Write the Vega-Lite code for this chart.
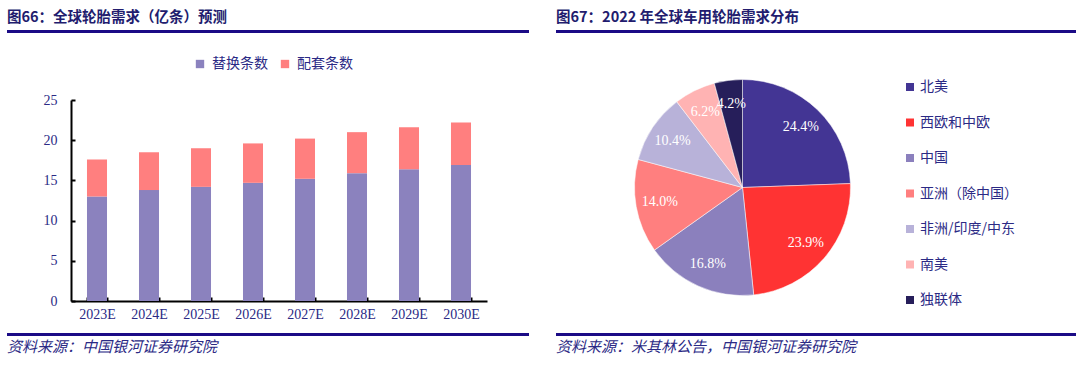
{
  "$schema": "https://vega.github.io/schema/vega-lite/v6.json",
  "background": "white",
  "padding": {"left": 7, "top": 10, "right": 0, "bottom": 0},
  "config": {
    "view": {"stroke": null},
    "font": "Liberation Serif"
  },
  "datasets": {
    "blank": [{"a": 1}],
    "bars": [
      {"year": "2023E", "type": "替换条数", "k": 1, "value": 13.0},
      {"year": "2024E", "type": "替换条数", "k": 1, "value": 13.8},
      {"year": "2025E", "type": "替换条数", "k": 1, "value": 14.2},
      {"year": "2026E", "type": "替换条数", "k": 1, "value": 14.7},
      {"year": "2027E", "type": "替换条数", "k": 1, "value": 15.2},
      {"year": "2028E", "type": "替换条数", "k": 1, "value": 15.9},
      {"year": "2029E", "type": "替换条数", "k": 1, "value": 16.4},
      {"year": "2030E", "type": "替换条数", "k": 1, "value": 16.9},
      {"year": "2023E", "type": "配套条数", "k": 2, "value": 4.6},
      {"year": "2024E", "type": "配套条数", "k": 2, "value": 4.7},
      {"year": "2025E", "type": "配套条数", "k": 2, "value": 4.8},
      {"year": "2026E", "type": "配套条数", "k": 2, "value": 4.9},
      {"year": "2027E", "type": "配套条数", "k": 2, "value": 5.0},
      {"year": "2028E", "type": "配套条数", "k": 2, "value": 5.1},
      {"year": "2029E", "type": "配套条数", "k": 2, "value": 5.2},
      {"year": "2030E", "type": "配套条数", "k": 2, "value": 5.3}
    ],
    "pie": [
      {"idx": 1, "region": "北美", "share": 0.244},
      {"idx": 2, "region": "西欧和中欧", "share": 0.239},
      {"idx": 3, "region": "中国", "share": 0.168},
      {"idx": 4, "region": "亚洲（除中国）", "share": 0.140},
      {"idx": 5, "region": "非洲/印度/中东", "share": 0.104},
      {"idx": 6, "region": "南美", "share": 0.062},
      {"idx": 7, "region": "独联体", "share": 0.042}
    ]
  },
  "resolve": {"scale": {"color": "independent"}, "legend": {"color": "independent"}},
  "spacing": 7,
  "vconcat": [
    {
      "spacing": 20,
      "resolve": {"scale": {"color": "independent"}, "legend": {"color": "independent"}},
      "vconcat": [
        {
          "spacing": 27,
          "hconcat": [
            {
              "data": {"name": "blank"},
              "mark": {"type": "text", "opacity": 0},
              "encoding": {},
              "width": 522,
              "height": 3,
              "view": {"fill": "#1B0B86", "stroke": null},
              "title": {"text": "图66：全球轮胎需求（亿条）预测", "anchor": "start", "orient": "top", "offset": 0, "fontSize": 14.5, "fontWeight": "bold", "color": "#221C6E", "font": "Noto Sans CJK SC"}
            },
            {
              "data": {"name": "blank"},
              "mark": {"type": "text", "opacity": 0},
              "encoding": {},
              "width": 520,
              "height": 3,
              "view": {"fill": "#1B0B86", "stroke": null},
              "title": {"text": "图67：2022 年全球车用轮胎需求分布", "anchor": "start", "orient": "top", "offset": 0, "fontSize": 14.5, "fontWeight": "bold", "color": "#221C6E", "font": "Noto Sans CJK SC"}
            }
          ]
        },
        {
          "spacing": 68,
          "resolve": {"scale": {"color": "independent"}, "legend": {"color": "independent"}},
          "hconcat": [
            {
              "spacing": 0,
              "resolve": {"scale": {"color": "independent"}, "legend": {"color": "independent"}},
              "hconcat": [
                {
                  "data": {"name": "blank"},
                  "mark": {"type": "text", "opacity": 0},
                  "encoding": {},
                  "width": 1,
                  "height": 1
                },
                {
                  "data": {"name": "bars"},
                  "width": 416,
                  "height": 201,
                  "mark": {"type": "bar"},
                  "encoding": {
                    "x": {
                      "field": "year", "type": "nominal", "sort": null,
                      "scale": {"paddingInner": 0.615, "paddingOuter": 0.3075},
                      "axis": {"title": null, "labelAngle": 0, "domainColor": "black", "domainWidth": 2, "tickColor": "black", "tickWidth": 2, "tickSize": -4, "tickBand": "extent", "labelFontSize": 14, "labelColor": "#2B2A85", "labelFont": "Liberation Serif", "labelPadding": 10}
                    },
                    "y": {
                      "field": "value", "type": "quantitative", "stack": "zero",
                      "scale": {"domain": [0, 25], "nice": false},
                      "axis": {"title": null, "values": [0, 5, 10, 15, 20, 25], "grid": false, "domainColor": "black", "domainWidth": 2, "tickColor": "black", "tickWidth": 2, "tickSize": -4, "labelPadding": 18, "minExtent": 63, "maxExtent": 63, "labelFontSize": 14, "labelColor": "#2B2A85", "labelFont": "Liberation Serif"}
                    },
                    "order": {"field": "k", "type": "quantitative", "sort": "ascending"},
                    "color": {
                      "field": "type", "type": "nominal",
                      "scale": {"domain": ["替换条数", "配套条数"], "range": ["#8B82BE", "#FF7F7F"]},
                      "legend": {"title": null, "orient": "none", "legendX": 122, "legendY": -43, "direction": "horizontal", "symbolType": "square", "symbolSize": 70, "symbolStrokeWidth": 0, "labelFontSize": 14, "labelColor": "#2B2A85", "labelFont": "Noto Sans CJK SC", "columnPadding": 10, "labelOffset": 5}
                    }
                  }
                }
              ]
            },
            {
              "data": {"name": "pie"},
              "width": 375,
              "height": 175,
              "encoding": {
                "theta": {"field": "share", "type": "quantitative", "stack": true},
                "order": {"field": "idx", "type": "quantitative"}
              },
              "layer": [
                {
                  "mark": {"type": "arc", "outerRadius": 108, "stroke": "white", "strokeWidth": 0.5},
                  "encoding": {
                    "color": {
                      "field": "region", "type": "nominal",
                      "scale": {"domain": ["北美", "西欧和中欧", "中国", "亚洲（除中国）", "非洲/印度/中东", "南美", "独联体"], "range": ["#433594", "#FF3333", "#8B80BD", "#FF7F7F", "#B8B2D9", "#FFB3B3", "#261E5A"]},
                      "legend": {"title": null, "orient": "none", "legendX": 348, "legendY": -20, "symbolType": "square", "symbolSize": 64, "symbolStrokeWidth": 0, "labelFontSize": 14, "labelFont": "Noto Sans CJK SC", "labelColor": "#2B2A85", "rowPadding": 21.5, "labelOffset": 3}
                    }
                  }
                },
                {
                  "mark": {"type": "text", "radius": 84, "fontSize": 14, "font": "Liberation Serif", "color": "white"},
                  "encoding": {"text": {"field": "share", "type": "quantitative", "format": ".1%"}}
                }
              ]
            }
          ]
        }
      ]
    },
    {
      "spacing": 27,
      "hconcat": [
        {
          "data": {"name": "blank"},
          "mark": {"type": "text", "opacity": 0},
          "encoding": {},
          "width": 522,
          "height": 3,
          "view": {"fill": "#1B0B86", "stroke": null},
          "title": {"text": "资料来源：中国银河证券研究院", "orient": "bottom", "anchor": "start", "offset": 0, "fontSize": 15, "fontStyle": "italic", "fontWeight": "normal", "color": "#2B2A85", "font": "Noto Sans CJK SC"}
        },
        {
          "data": {"name": "blank"},
          "mark": {"type": "text", "opacity": 0},
          "encoding": {},
          "width": 520,
          "height": 3,
          "view": {"fill": "#1B0B86", "stroke": null},
          "title": {"text": "资料来源：米其林公告，中国银河证券研究院", "orient": "bottom", "anchor": "start", "offset": 0, "fontSize": 15, "fontStyle": "italic", "fontWeight": "normal", "color": "#2B2A85", "font": "Noto Sans CJK SC"}
        }
      ]
    }
  ]
}
